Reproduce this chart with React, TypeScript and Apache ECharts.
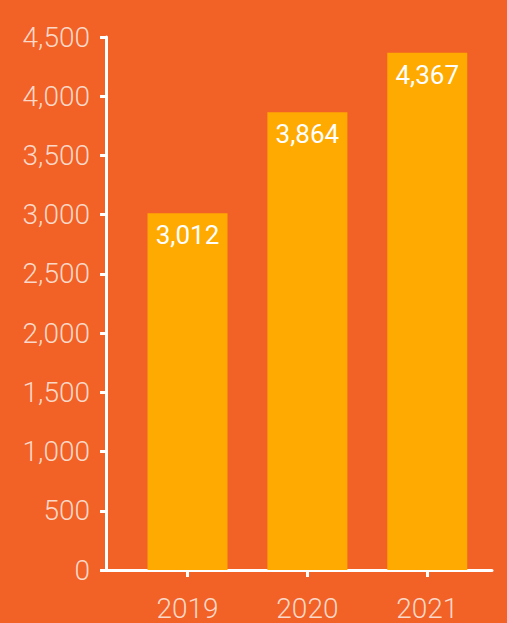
import React, { useEffect, useRef } from "react";
import * as echarts from "echarts";

const years = [2019, 2020, 2021];
const values = [3012, 3864, 4367];
const yTicks = [0, 500, 1000, 1500, 2000, 2500, 3000, 3500, 4000, 4500];

export default function App() {
  const ref = useRef<HTMLDivElement>(null);
  useEffect(() => {
    if (!ref.current) return;
    const chart = echarts.init(ref.current, null, { renderer: "svg" });
    const lineColor = "#FFFFFF";
    const labelColor = "#FBD8C8";
    chart.setOption({
      animation: false,
      backgroundColor: "#F26125",
      grid: { left: 106, right: 15, top: 37, bottom: 53 },
      xAxis: {
        type: "value",
        min: 2018.32,
        max: 2021.54,
        splitLine: { show: false },
        axisLine: { show: true, onZero: false, lineStyle: { color: lineColor, width: 3 } },
        axisTick: { show: true, customValues: years, length: 7, lineStyle: { color: lineColor, width: 3 } },
        axisLabel: {
          customValues: years,
          formatter: (v: number) => String(v),
          color: labelColor,
          fontFamily: "Roboto",
          fontWeight: 300,
          fontSize: 28,
          margin: 24,
        },
      },
      yAxis: {
        type: "value",
        min: 0,
        max: 4500,
        interval: 500,
        splitLine: { show: false },
        axisLine: { show: true, lineStyle: { color: lineColor, width: 3 } },
        axisTick: { show: true, length: 6, lineStyle: { color: lineColor, width: 3 } },
        axisLabel: {
          customValues: yTicks,
          formatter: (v: number) => v.toLocaleString("en-US"),
          color: labelColor,
          fontFamily: "Roboto",
          fontWeight: 300,
          fontSize: 28,
          margin: 16,
        },
      },
      series: [
        {
          type: "bar",
          data: years.map((y, i) => [y, values[i]]),
          barWidth: 80,
          itemStyle: { color: "#FFAA00" },
          label: {
            show: true,
            position: "insideTop",
            distance: 9,
            formatter: (p: any) => p.value[1].toLocaleString("en-US"),
            color: "#FFFFFF",
            fontFamily: "Roboto",
            fontSize: 26,
          },
        },
      ],
    });
    return () => chart.dispose();
  }, []);
  return (
    <div
      ref={ref}
      style={{ position: "absolute", left: 0, top: 0, width: 507, height: 623 }}
    />
  );
}
